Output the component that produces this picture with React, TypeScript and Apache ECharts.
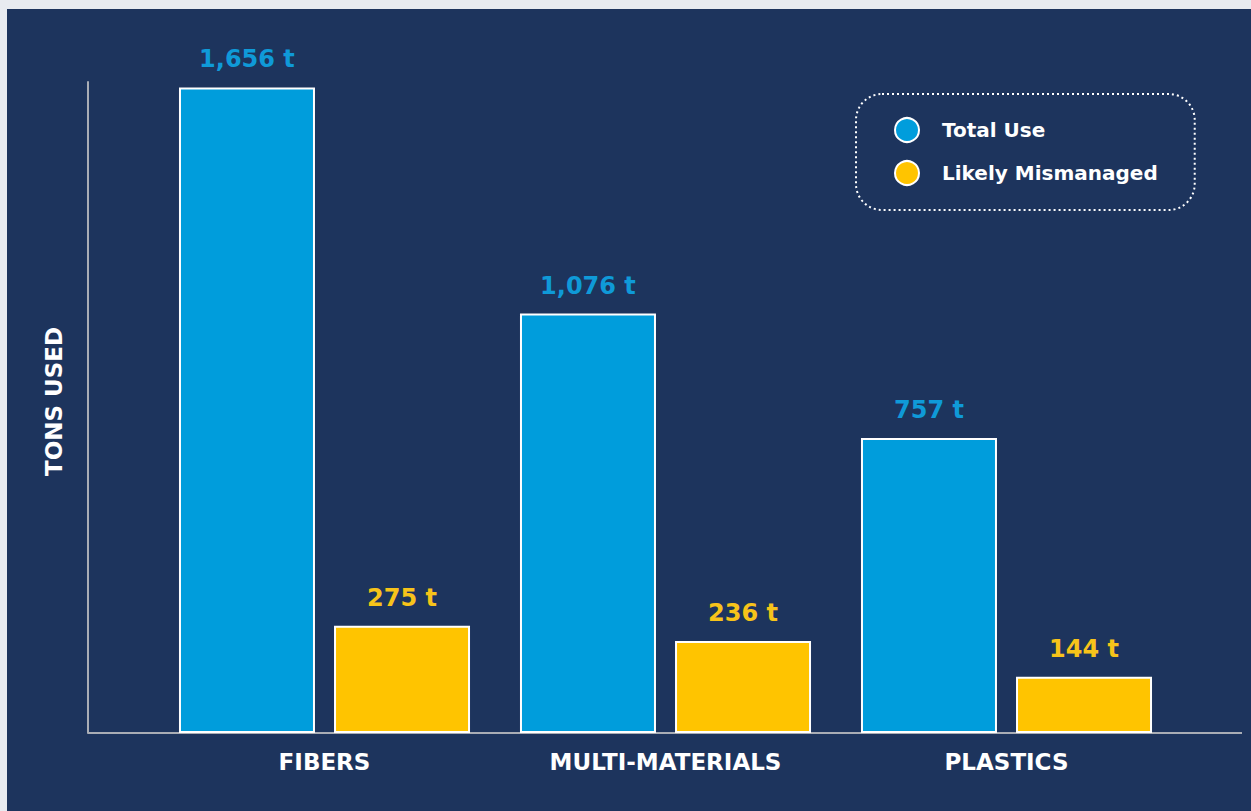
import React, { useEffect, useRef } from "react";
import * as echarts from "echarts";

const categories = ["FIBERS", "MULTI-MATERIALS", "PLASTICS"];
const totalUse = [1656, 1076, 757];
const likelyMismanaged = [275, 236, 144];
const seriesNames = ["Total Use", "Likely Mismanaged"];

const NAVY = "#1d345d";
const BLUE = "#009ddc";
const BLUE_TEXT = "#0f9ad8";
const YELLOW = "#ffc400";
const YELLOW_TEXT = "#f7c31a";
const AXIS = "#a9adb5";
const FONT = "DejaVu Sans";

const fmt = (v: number) => v.toLocaleString("en-US") + " t";

export default function App() {
  const ref = useRef<HTMLDivElement>(null);

  useEffect(() => {
    document.body.style.background = "#e8ebf0";
    if (!ref.current) return;
    const chart = echarts.init(ref.current, null, { renderer: "svg" });
    chart.setOption({
      animation: false,
      backgroundColor: NAVY,
      grid: { left: 147, right: 74, top: 73, bottom: 78, containLabel: false },
      legend: {
        data: seriesNames,
        orient: "vertical",
        left: 849,
        top: 85,
        icon: "circle",
        itemWidth: 60,
        itemHeight: 24,
        itemGap: 17,
        padding: [23, 37, 24, 38],
        borderColor: "#ffffff",
        borderWidth: 2,
        borderType: [2, 3],
        borderRadius: 26,
        textStyle: {
          color: "#ffffff",
          fontFamily: FONT,
          fontWeight: "bold",
          fontSize: 20,
        },
        itemStyle: { borderColor: "#ffffff", borderWidth: 2 },
      },
      xAxis: {
        type: "category",
        data: categories,
        axisLine: { show: false },
        axisTick: { show: false },
        axisLabel: {
          color: "#ffffff",
          fontFamily: FONT,
          fontWeight: "bold",
          fontSize: 23,
          margin: 17,
        },
      },
      yAxis: {
        type: "value",
        min: 0,
        max: 1670,
        offset: 66,
        axisLine: { show: true, lineStyle: { color: AXIS, width: 2 } },
        axisTick: { show: false },
        axisLabel: { show: false },
        splitLine: { show: false },
        name: "TONS USED",
        nameLocation: "middle",
        nameGap: 23,
        nameRotate: 90,
        nameTextStyle: {
          color: "#ffffff",
          fontFamily: FONT,
          fontWeight: "bold",
          fontSize: 23,
          padding: [0, 0, 0, 12],
        },
      },
      graphic: [
        {
          type: "line",
          shape: { x1: 81, y1: 724, x2: 1235, y2: 724 },
          style: { stroke: AXIS, lineWidth: 2 },
          z: 1,
        },
      ],
      series: [
        {
          name: seriesNames[0],
          type: "bar",
          data: totalUse,
          barWidth: 136,
          barGap: "14%",
          itemStyle: { color: BLUE, borderColor: "#ffffff", borderWidth: 2 },
          label: {
            show: true,
            position: "top",
            distance: 16,
            formatter: (p: any) => fmt(p.value),
            color: BLUE_TEXT,
            fontFamily: FONT,
            fontWeight: "bold",
            fontSize: 24,
          },
          z: 3,
        },
        {
          name: seriesNames[1],
          type: "bar",
          data: likelyMismanaged,
          barWidth: 136,
          barGap: "14%",
          itemStyle: { color: YELLOW, borderColor: "#ffffff", borderWidth: 2 },
          label: {
            show: true,
            position: "top",
            distance: 16,
            formatter: (p: any) => fmt(p.value),
            color: YELLOW_TEXT,
            fontFamily: FONT,
            fontWeight: "bold",
            fontSize: 24,
          },
          z: 3,
        },
      ],
    });
    return () => chart.dispose();
  }, []);

  return (
    <div
      ref={ref}
      style={{ position: "fixed", left: 7, top: 9, width: 1244, height: 802 }}
    />
  );
}
